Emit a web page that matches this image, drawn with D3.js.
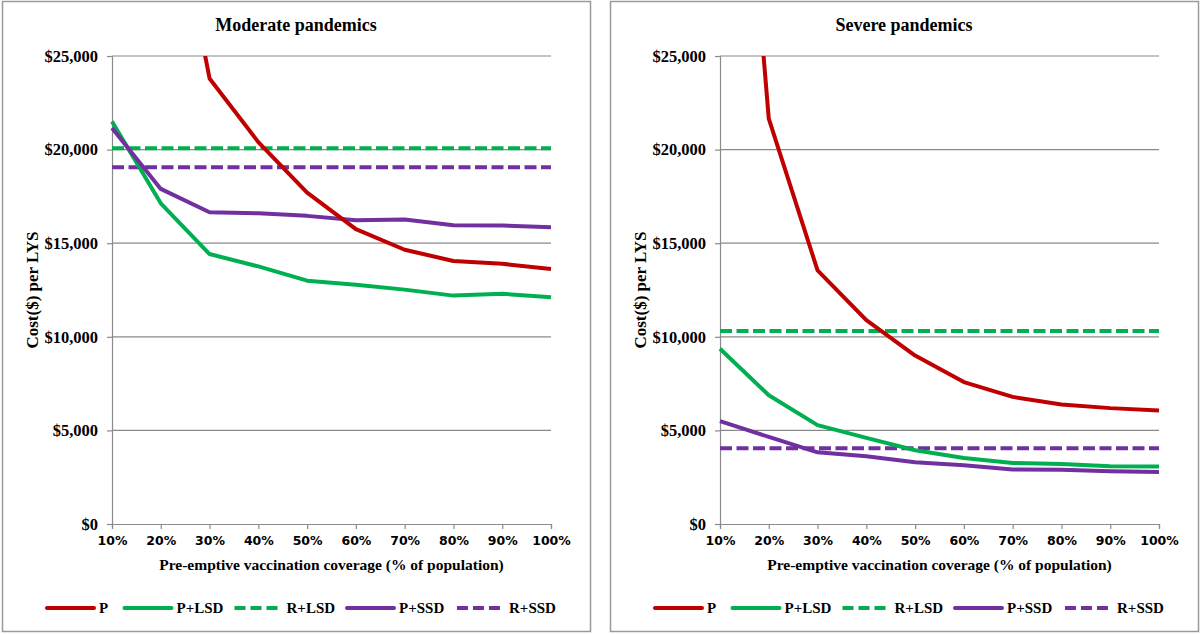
<!DOCTYPE html>
<html>
<head>
<meta charset="utf-8">
<script src="https://cdn.jsdelivr.net/npm/d3@7"></script>
<style>
  html, body { margin: 0; padding: 0; background: #ffffff; }
  svg { display: block; }
</style>
</head>
<body>
<div id="chart"></div>
<script>
// ---------- DATA ----------
const coverage = ["10%", "20%", "30%", "40%", "50%", "60%", "70%", "80%", "90%", "100%"];
const yTicks = [0, 5000, 10000, 15000, 20000, 25000];
const seriesNames = ["P", "P+LSD", "R+LSD", "P+SSD", "R+SSD"];

// Moderate pandemics
const moderateP     = [60000, 37200, 23800, 20400, 17700, 15750, 14650, 14050, 13900, 13620];
const moderatePLSD  = [21500, 17130, 14420, 13760, 13000, 12780, 12520, 12200, 12300, 12110];
const moderateRLSD  = [20070, 20070, 20070, 20070, 20070, 20070, 20070, 20070, 20070, 20070];
const moderatePSSD  = [21150, 17900, 16650, 16600, 16460, 16230, 16270, 15960, 15940, 15850];
const moderateRSSD  = [19060, 19060, 19060, 19060, 19060, 19060, 19060, 19060, 19060, 19060];

// Severe pandemics
const severeP       = [53000, 21650, 13550, 10890, 9000, 7580, 6790, 6380, 6190, 6060];
const severePLSD    = [9360, 6880, 5280, 4600, 3940, 3530, 3260, 3200, 3080, 3070];
const severeRLSD    = [10310, 10310, 10310, 10310, 10310, 10310, 10310, 10310, 10310, 10310];
const severePSSD    = [5500, 4650, 3830, 3620, 3300, 3140, 2910, 2900, 2820, 2780];
const severeRSSD    = [4040, 4040, 4040, 4040, 4040, 4040, 4040, 4040, 4040, 4040];

const titles = ["Moderate pandemics", "Severe pandemics"];
const yAxisTitle = "Cost($) per LYS";
const xAxisTitle = "Pre-emptive vaccination coverage (% of population)";

// ---------- STYLE ----------
const colors = { "P": "#C00000", "P+LSD": "#00B050", "R+LSD": "#00B050", "P+SSD": "#7030A0", "R+SSD": "#7030A0" };
const dashed = { "P": false, "P+LSD": false, "R+LSD": true, "P+SSD": false, "R+SSD": true };
const gridColor = "#8a8a8a";
const serif = "'Liberation Serif', 'Times New Roman', serif";
const sans = "'DejaVu Sans', Verdana, sans-serif";

const panels = [
  { x0: 2, title: titles[0], series: [moderateP, moderatePLSD, moderateRLSD, moderatePSSD, moderateRSSD] },
  { x0: 610, title: titles[1], series: [severeP, severePLSD, severeRLSD, severePSSD, severeRSSD] }
];

const W = 1200, H = 634;
const svg = d3.select("#chart").append("svg").attr("width", W).attr("height", H);

const fmt = d => "$" + d3.format(",")(d);

panels.forEach((p, pi) => {
  const g = svg.append("g");
  // panel border
  g.append("rect")
    .attr("x", p.x0 + 0.5).attr("y", 1.5)
    .attr("width", 588).attr("height", 630)
    .attr("fill", "#fff").attr("stroke", "#9a9a9a").attr("stroke-width", 1.5);

  const left = p.x0 + 110, right = p.x0 + 549, top = 56, bottom = 524;
  const x = d3.scalePoint().domain(coverage).range([left, right]);
  const y = d3.scaleLinear().domain([0, 25000]).range([bottom, top]);

  // title
  g.append("text")
    .attr("x", p.x0 + 294).attr("y", 31)
    .attr("text-anchor", "middle")
    .attr("font-family", serif).attr("font-weight", "bold").attr("font-size", 18)
    .attr("fill", "#000")
    .text(p.title);

  // gridlines
  g.append("g").selectAll("line").data(yTicks.filter(d => d > 0)).join("line")
    .attr("x1", left).attr("x2", right)
    .attr("y1", d => y(d)).attr("y2", d => y(d))
    .attr("stroke", gridColor).attr("stroke-width", 1.2);

  // y axis
  const yAxis = g.append("g").attr("transform", `translate(${left},0)`)
    .call(d3.axisLeft(y).tickValues(yTicks).tickFormat(fmt).tickSize(5).tickPadding(9));
  yAxis.select(".domain").attr("stroke", gridColor).attr("stroke-width", 1.2);
  yAxis.selectAll(".tick line").attr("stroke", gridColor).attr("stroke-width", 1.2);
  yAxis.selectAll(".tick text")
    .attr("font-family", serif).attr("font-weight", "bold").attr("font-size", 16.5).attr("fill", "#000");

  // x axis
  const xAxis = g.append("g").attr("transform", `translate(0,${bottom})`)
    .call(d3.axisBottom(x).tickSize(5).tickPadding(7));
  xAxis.select(".domain").attr("stroke", gridColor).attr("stroke-width", 1.2);
  xAxis.selectAll(".tick line").attr("stroke", gridColor).attr("stroke-width", 1.2);
  xAxis.selectAll(".tick text")
    .attr("font-family", sans).attr("font-weight", "bold").attr("font-size", 12.5).attr("fill", "#000");

  // axis titles
  g.append("text")
    .attr("transform", `translate(${p.x0 + 36},${(top + bottom) / 2}) rotate(-90)`)
    .attr("text-anchor", "middle")
    .attr("font-family", serif).attr("font-weight", "bold").attr("font-size", 17)
    .attr("fill", "#000")
    .text(yAxisTitle);
  g.append("text")
    .attr("x", (left + right) / 2).attr("y", 570)
    .attr("text-anchor", "middle")
    .attr("font-family", serif).attr("font-weight", "bold").attr("font-size", 15.5)
    .attr("fill", "#000")
    .text(xAxisTitle);

  // clip
  const clipId = "clip" + pi;
  svg.append("clipPath").attr("id", clipId).append("rect")
    .attr("x", left - 10).attr("y", top).attr("width", right - left + 20).attr("height", bottom - top + 10);

  const line = d3.line().x((d, i) => x(coverage[i])).y(d => y(d));
  const plot = g.append("g").attr("clip-path", `url(#${clipId})`);
  // draw order: dashed first then solid
  const order = [2, 4, 1, 3, 0];
  order.forEach(si => {
    const name = seriesNames[si];
    plot.append("path")
      .datum(p.series[si])
      .attr("d", line)
      .attr("fill", "none")
      .attr("stroke", colors[name])
      .attr("stroke-width", 4)
      .attr("stroke-linejoin", "round")
      .attr("stroke-dasharray", dashed[name] ? "12,4.5" : null);
  });

  // legend
  const legX = [45, 122.5, 232.5, 345, 455];
  const legY = 608;
  seriesNames.forEach((name, i) => {
    const lx = p.x0 + legX[i];
    g.append("line")
      .attr("x1", lx).attr("x2", lx + 47)
      .attr("y1", legY).attr("y2", legY)
      .attr("stroke", colors[name]).attr("stroke-width", 4)
      .attr("stroke-linecap", dashed[name] ? "butt" : "round")
      .attr("stroke-dasharray", dashed[name] ? "11,5" : null);
    g.append("text")
      .attr("x", lx + 52).attr("y", legY + 5)
      .attr("font-family", serif).attr("font-weight", "bold").attr("font-size", 15)
      .attr("fill", "#000")
      .text(name);
  });
});
</script>
</body>
</html>
